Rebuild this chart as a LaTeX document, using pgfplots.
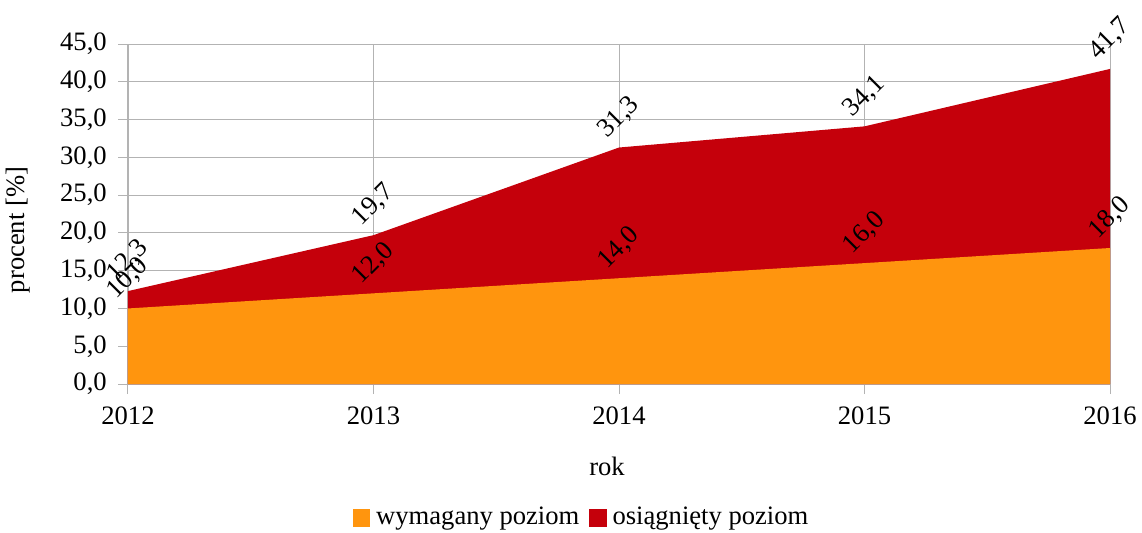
\documentclass[border=0pt]{standalone}
\usepackage{fontspec}
\setmainfont{Liberation Serif}
\usepackage{pgfplots}
\pgfplotsset{compat=1.18}
\usetikzlibrary{calc}
\definecolor{lorange}{HTML}{FF950E}
\definecolor{lred}{HTML}{C5000B}
\definecolor{gridgray}{HTML}{B3B3B3}
\newcommand{\cf}{\fontsize{13.3pt}{15pt}\selectfont}
\begin{document}
\cf
\begin{tikzpicture}
\begin{axis}[
  scale only axis,
  width=491pt, height=170pt,
  xmin=2012, xmax=2016, ymin=0, ymax=45,
  xtick={2012,2013,2014,2015,2016},
  xticklabels={2012,2013,2014,2015,2016},
  ytick={0,5,...,45},
  /pgf/number format/assume math mode=true,
  yticklabel style={/pgf/number format/fixed, /pgf/number format/fixed zerofill, /pgf/number format/precision=1, /pgf/number format/use comma, xshift=-1pt},
  grid=major,
  grid style={gridgray, line width=0.5pt},
  axis line style={gridgray},
  tick style={gridgray, line width=0.5pt},
  tick align=outside,
  major tick length=5pt,
  xtick pos=bottom, ytick pos=left,
  xticklabel style={yshift=-2pt},
  xlabel={rok},
  xlabel style={yshift=-7pt, xshift=-6pt},
  ylabel={procent [\%]},
  ylabel style={yshift=6pt, xshift=-8pt},
  tick label style={font=\cf},
  label style={font=\cf},
  legend style={draw=none, fill=none, at={(rel axis cs:0.463,0)}, anchor=center, yshift=-67pt, legend columns=2, font=\cf, /tikz/every even column/.append style={column sep=3pt}, /tikz/every odd column/.append style={column sep=1pt}},
  legend image code/.code={\fill[#1] (0pt,-4.3pt) rectangle (8.6pt,4.3pt);},
  nodes near coords,
  every node near coord/.append style={/pgf/number format/fixed, /pgf/number format/fixed zerofill, /pgf/number format/precision=1, /pgf/number format/use comma, font=\cf, anchor=center, yshift=15pt, rotate=45, text=black, inner sep=0pt},
  clip=false,
]
\addlegendimage{fill=lorange, draw=none}
\addlegendentry{wymagany poziom}
\addlegendimage{fill=lred, draw=none}
\addlegendentry{osiągnięty poziom}
\addplot[fill=lred, draw=none, forget plot] coordinates {(2012,12.3) (2013,19.7) (2014,31.3) (2015,34.1) (2016,41.7)} \closedcycle;
\addplot[fill=lorange, draw=none, forget plot] coordinates {(2012,10.0) (2013,12.0) (2014,14.0) (2015,16.0) (2016,18.0)} \closedcycle;
\coordinate (bl) at (rel axis cs:0,0);
\coordinate (tr) at (rel axis cs:1,1);
\end{axis}
\pgfresetboundingbox
\path ($(bl)+(-64pt,-74pt)$) rectangle ($(tr)+(16pt,22pt)$);
\end{tikzpicture}
\end{document}
